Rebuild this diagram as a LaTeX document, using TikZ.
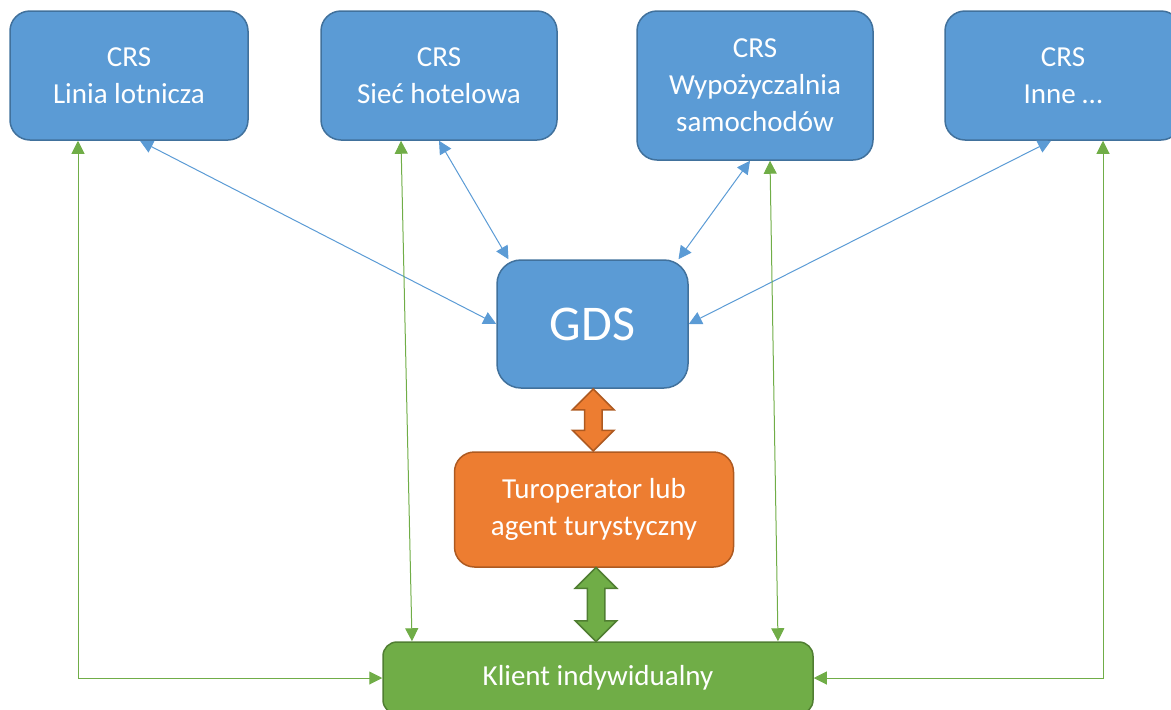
\documentclass[tikz,border=0pt]{standalone}
\usepackage{fontspec}
\setmainfont{Carlito}
\usetikzlibrary{arrows.meta,shapes.arrows,calc}
\definecolor{bluefill}{HTML}{5B9BD5}
\definecolor{blueedge}{HTML}{41719C}
\definecolor{orangefill}{HTML}{ED7D31}
\definecolor{orangeedge}{HTML}{AE5A21}
\definecolor{greenfill}{HTML}{70AD47}
\definecolor{greenedge}{HTML}{507E32}
\newcommand{\crsw}{236pt}
\newcommand{\crsh}{129pt}

\begin{document}
\begin{tikzpicture}[
      x=1pt, y=-1pt, %one unit is one pixel of the picture
      box/.style={draw, line width=1.5pt, rounded corners=20pt, text=white, align=center, inner sep=0pt, font=\fontsize{29}{37}\selectfont},
      crs/.style={box, fill=bluefill, draw=blueedge, minimum width=\crsw, minimum height=\crsh},
      bigarrow/.style={double arrow, shape border rotate=90, line width=1.5pt, inner sep=8pt, double arrow head extend=12pt},
      >={Triangle[length=13pt,width=13pt]},
      blueline/.style={draw=bluefill, line width=1pt, <->},
      greenline/.style={draw=greenfill, line width=1pt, <->}
    ]
    \useasboundingbox (0,0) rectangle (1171,710);
    \clip (0,0) rectangle (1171,710);
    % The CRS systems
    \node[crs, minimum width=238pt] (crs1) at (129,75.5) {CRS\\Linia lotnicza};
    \node[crs] (crs2) at (439,75.5) {CRS\\Sieć hotelowa};
    \node[crs, minimum height=149pt] (crs3) at (755,85.5) {CRS\\Wypożyczalnia\\samochodów};
    \node[crs] (crs4) at (1063,75.5) {CRS\\Inne …};
    % GDS, agent and client
    \node[box, fill=bluefill, draw=blueedge, minimum width=191pt, minimum height=128pt, rounded corners=24pt, font=\fontsize{50}{60}\selectfont] (gds) at (592.5,324) {GDS};
    \node[box, fill=orangefill, draw=orangeedge, minimum width=279pt, minimum height=115pt] (tour) at (594,509.5) {Turoperator lub\\agent turystyczny};
    \node[box, fill=greenfill, draw=greenedge, minimum width=430pt, minimum height=72pt, rounded corners=14pt] (klient) at (598,678) {Klient indywidualny};
    % Block arrows
    \node[bigarrow, fill=orangefill, draw=orangeedge, minimum height=62pt] (ga) at ($(gds.south)!0.5!(tour.north)$) {};
    \node[bigarrow, fill=greenfill, draw=greenedge, minimum height=74pt] (tk) at ($(tour.south)!0.5!(klient.north)$) {};
    % CRS to GDS
    \draw[blueline] ([xshift=11pt]crs1.south) -- (gds.west);
    \draw[blueline] (crs2.south) -- ([xshift=-84pt]gds.north);
    \draw[blueline] ([xshift=-5pt]crs3.south) -- ([xshift=86pt]gds.north);
    \draw[blueline] ([xshift=-12pt]crs4.south) -- (gds.east);
    % CRS to client
    \draw[greenline] ([xshift=-51pt]crs1.south) |- (klient.west);
    \draw[greenline] ([xshift=-38pt]crs2.south) -- ([xshift=-186pt]klient.north);
    \draw[greenline] ([xshift=15pt]crs3.south) -- ([xshift=180pt]klient.north);
    \draw[greenline] ([xshift=40pt]crs4.south) |- (klient.east);
    \end{tikzpicture}
\end{document}
